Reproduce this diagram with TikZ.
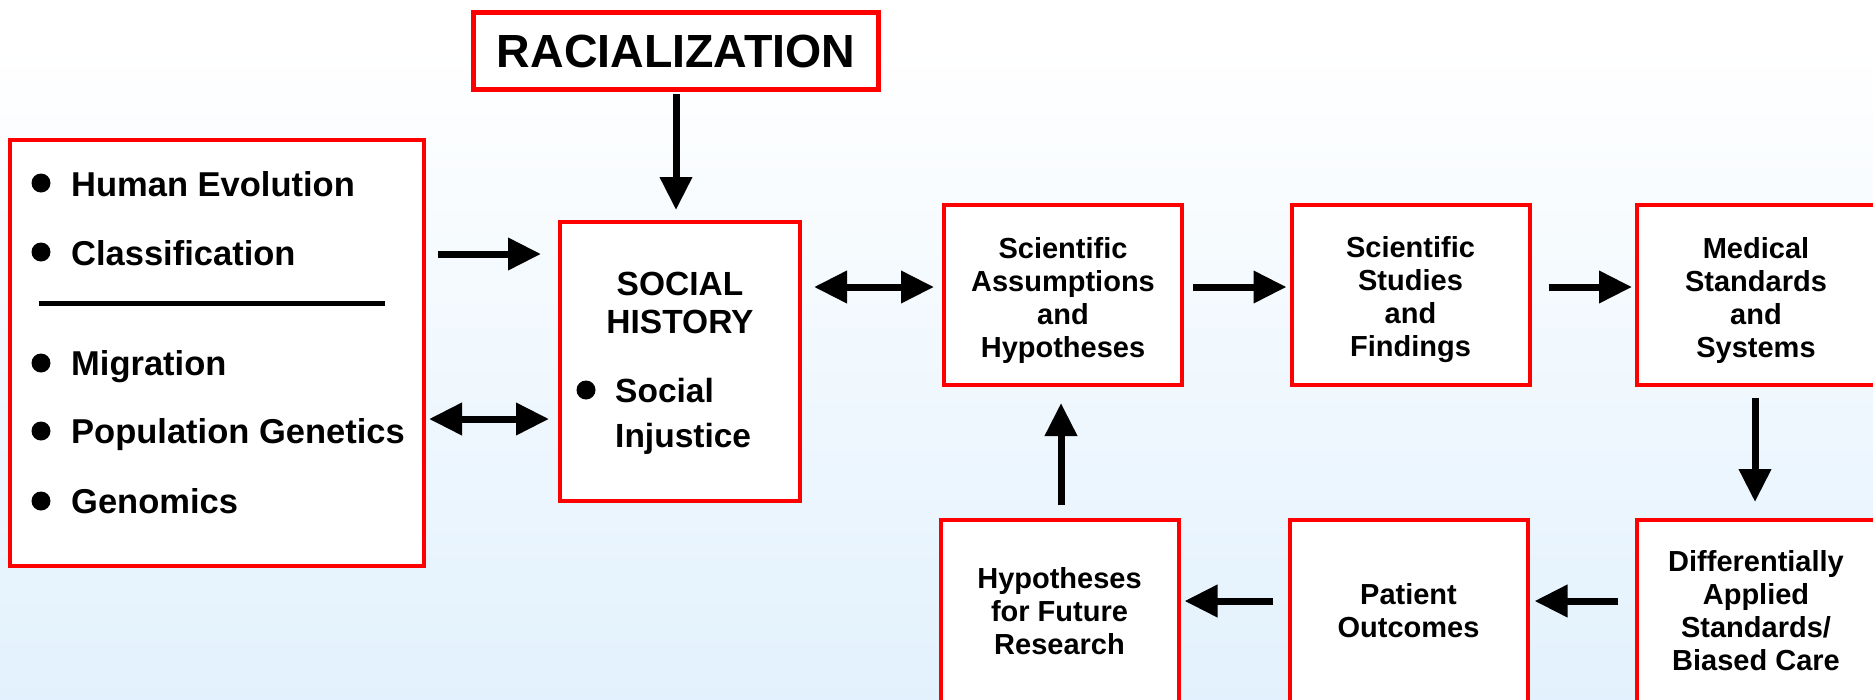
\documentclass[tikz,border=0pt]{standalone}
\usepackage{fontspec}
\setmainfont{Liberation Sans}
\usetikzlibrary{arrows.meta}
\definecolor{bgblue}{RGB}{211,234,252}
\definecolor{bxred}{RGB}{255,0,0}
\pgfdeclareverticalshading{bgshade}{100bp}{color(0bp)=(bgblue); color(72bp)=(white); color(100bp)=(white)}
\begin{document}
\begin{tikzpicture}[x=1pt,y=-1pt,
  box/.style={draw=bxred, line width=4pt, fill=white, inner sep=0pt,
    minimum width=238pt, minimum height=180pt},
  btxt/.style={inner sep=0pt, align=center, font=\bfseries\fontsize{29}{33}\selectfont},
  tipx/.tip={Triangle[length=33pt,width=31pt]},
  arr/.style={line width=7pt, -tipx},
  darr/.style={line width=7pt, tipx-tipx},
  lbl/.style={inner sep=0pt, anchor=base west, font=\bfseries\fontsize{34.5}{40}\selectfont},
  ctr/.style={inner sep=0pt, anchor=base, font=\bfseries\fontsize{33.5}{38}\selectfont},
  dot/.style={circle, fill=black, inner sep=0pt, minimum size=19pt}]
\useasboundingbox (0,0) rectangle (1873,699);
\clip (0,0) rectangle (1873,699);
\shade[shading=bgshade] (0,0) rectangle (1873,699);

% boxes
\node[draw=bxred, line width=5pt, fill=white, inner sep=0pt, minimum width=405pt, minimum height=77pt,
  font=\bfseries\fontsize{46.5}{50}\selectfont] (rac) at (676,51) {RACIALIZATION};
\node[draw=bxred, line width=4pt, fill=white, inner sep=0pt, minimum width=414pt, minimum height=426pt] (lft) at (217,353) {};
\node[draw=bxred, line width=4pt, fill=white, inner sep=0pt, minimum width=240pt, minimum height=279pt] (soc) at (680,361.5) {};
\node[box] (sa) at (1063,295) {};
\node[btxt] (saT) at (1063,300) {Scientific\\Assumptions\\and\\Hypotheses};
\node[box] (ss) at (1410.5,295) {};
\node[btxt] (ssT) at (1410.5,300) {Scientific\\Studies\\and\\Findings};
\node[box] (ms) at (1756,295) {};
\node[btxt] (msT) at (1756,300) {Medical\\Standards\\and\\Systems};
\node[box, minimum height=182pt] (hf) at (1059.5,611) {};
\node[btxt] (hfT) at (1059.5,611) {Hypotheses\\for Future\\Research};
\node[box, minimum height=182pt] (po) at (1408.5,611) {};
\node[btxt] (poT) at (1408.5,611) {Patient\\Outcomes};
\node[box, minimum height=182pt] (da) at (1756,611) {};
\node[btxt] (daT) at (1756,611) {Differentially\\Applied\\Standards/\\Biased Care};

% left box contents
\node[dot] (d1) at (41,183) {};
\node[lbl] (t1) at (71,196) {Human Evolution};
\node[dot] (d2) at (41,252) {};
\node[lbl] (t2) at (71,265) {Classification};
\draw[line width=5pt] (39,303) -- (385,303);
\node[dot] (d3) at (41,363) {};
\node[lbl] (t3) at (71,375) {Migration};
\node[dot] (d4) at (41,431) {};
\node[lbl] (t4) at (71,443) {Population Genetics};
\node[dot] (d5) at (41,501) {};
\node[lbl] (t5) at (71,513) {Genomics};

% social box contents
\node[ctr] (s1) at (680,295) {SOCIAL};
\node[ctr] (s2) at (680,333) {HISTORY};
\node[dot] (d6) at (586,390) {};
\node[lbl, font=\bfseries\fontsize{33.5}{38}\selectfont] (s3) at (615,402) {Social};
\node[lbl, font=\bfseries\fontsize{33.5}{38}\selectfont] (s4) at (615,447) {Injustice};

% connectors
\draw[arr, shorten <=2pt, shorten >=10pt] (rac.south) -- (rac.south |- soc.north);
\draw[arr, shorten <=12pt, shorten >=17pt] (lft.east |- 0,254) -- (soc.west |- 0,254);
\draw[darr, shorten <=3pt, shorten >=9pt] (lft.east |- 0,419) -- (soc.west |- 0,419);
\draw[darr, shorten <=12pt, shorten >=8pt] (soc.east |- 0,287) -- (sa.west |- 0,287);
\draw[arr, shorten <=9pt, shorten >=3pt] (sa.east |- 0,287) -- (ss.west |- 0,287);
\draw[arr, shorten <=17pt, shorten >=3pt] (ss.east |- 0,287) -- (ms.west |- 0,287);
\draw[arr, shorten <=11pt, shorten >=16pt] (ms.south -| 1755,0) -- (da.north -| 1755,0);
\draw[arr, shorten <=17pt, shorten >=5pt] (da.west |- 0,601) -- (po.east |- 0,601);
\draw[arr, shorten <=15pt, shorten >=4pt] (po.west |- 0,601) -- (hf.east |- 0,601);
\draw[arr, shorten <=13pt, shorten >=16pt] (hf.north -| 1061,0) -- (sa.south -| 1061,0);
\end{tikzpicture}
\end{document}
